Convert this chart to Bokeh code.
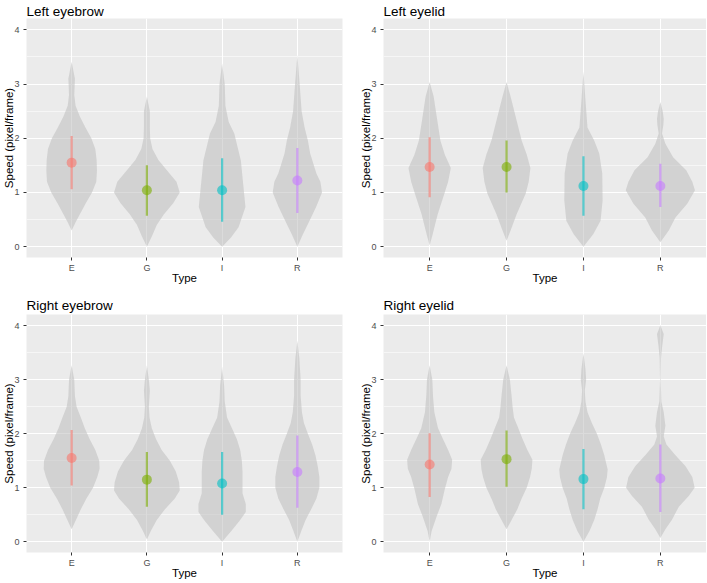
from bokeh.plotting import figure
from bokeh.layouts import gridplot
from bokeh.models import Range1d, FixedTicker
from bokeh.embed import file_html
from bokeh.resources import INLINE

# ---------------- data ----------------
types = ["E", "G", "I", "R"]
panel_titles = ["Left eyebrow", "Left eyelid", "Right eyebrow", "Right eyelid"]
type_colors = ["#F8766D", "#7CAE00", "#00BFC4", "#C77CFF"]
y_ticks = [0, 1, 2, 3, 4]
y_minor_ticks = [0.5, 1.5, 2.5, 3.5]

# mean and mean +/- sd of speed per type
lb_mean = [1.55, 1.04, 1.04, 1.22]
lb_lo = [1.06, 0.57, 0.46, 0.62]
lb_hi = [2.04, 1.50, 1.63, 1.82]

ll_mean = [1.47, 1.47, 1.12, 1.12]
ll_lo = [0.91, 1.00, 0.57, 0.73]
ll_hi = [2.02, 1.96, 1.67, 1.53]

rb_mean = [1.55, 1.15, 1.08, 1.29]
rb_lo = [1.04, 0.65, 0.50, 0.63]
rb_hi = [2.07, 1.66, 1.66, 1.97]

rl_mean = [1.43, 1.53, 1.16, 1.17]
rl_lo = [0.83, 1.02, 0.60, 0.55]
rl_hi = [2.01, 2.06, 1.72, 1.80]

# violin outlines: speed values and relative density (half width, 100 = widest)
lb_E_y = [0.30, 0.45, 0.6, 0.8, 1.0, 1.2, 1.4, 1.6, 1.8, 2.0, 2.2, 2.4, 2.6, 2.8, 3.1, 3.41]
lb_E_w = [0, 12, 25, 43, 62, 75, 77, 76, 72, 60, 42, 25, 12, 8, 10, 0]
lb_G_y = [0.0, 0.2, 0.4, 0.6, 0.8, 1.0, 1.2, 1.4, 1.6, 1.8, 2.0, 2.2, 2.5, 2.77]
lb_G_w = [0, 16, 30, 52, 80, 100, 90, 62, 35, 17, 10, 9, 9, 0]
lb_I_y = [0.0, 0.17, 0.36, 0.73, 1.22, 1.59, 2.09, 2.3, 2.6, 3.0, 3.38]
lb_I_w = [0, 27, 50, 71, 63, 57, 37, 20, 10, 8, 0]
lb_R_y = [0.0, 0.23, 0.48, 0.73, 1.0, 1.2, 1.35, 1.72, 1.96, 2.2, 2.5, 3.0, 3.54]
lb_R_w = [0, 17, 37, 57, 75, 70, 58, 39, 32, 22, 13, 7, 0]

ll_E_y = [0.02, 0.23, 0.6, 0.98, 1.2, 1.45, 1.7, 1.96, 2.4, 2.77, 3.04]
ll_E_w = [0, 9, 24, 44, 55, 63, 45, 32, 21, 12, 0]
ll_G_y = [0.11, 0.3, 0.6, 0.98, 1.2, 1.45, 1.7, 1.96, 2.4, 2.77, 3.04]
ll_G_w = [0, 12, 30, 57, 66, 71, 60, 45, 27, 12, 0]
ll_I_y = [0.0, 0.23, 0.48, 0.85, 1.35, 1.72, 1.96, 2.2, 2.7, 3.23]
ll_I_w = [0, 29, 51, 57, 56, 47, 32, 12, 6, 0]
ll_R_y = [0.08, 0.3, 0.54, 0.79, 1.04, 1.2, 1.41, 1.65, 1.9, 2.09, 2.25, 2.36, 2.5, 2.67]
ll_R_w = [0, 25, 45, 80, 103, 95, 77, 38, 15, 5, 9, 10, 7, 0]

rb_E_y = [0.23, 0.4, 0.6, 0.8, 1.0, 1.2, 1.35, 1.5, 1.7, 1.9, 2.1, 2.3, 2.5, 2.7, 3.0, 3.27]
rb_E_w = [0, 13, 28, 45, 65, 78, 85, 84, 72, 55, 40, 28, 15, 10, 8, 0]
rb_G_y = [0.04, 0.2, 0.4, 0.6, 0.8, 0.95, 1.1, 1.3, 1.5, 1.7, 1.9, 2.1, 2.3, 2.5, 2.8, 3.0, 3.27]
rb_G_w = [0, 12, 30, 55, 85, 100, 98, 88, 70, 45, 28, 15, 8, 6, 9, 6, 0]
rb_I_y = [0.0, 0.2, 0.4, 0.55, 0.7, 0.9, 1.1, 1.3, 1.5, 1.7, 1.9, 2.1, 2.3, 2.6, 2.9, 3.24]
rb_I_w = [0, 28, 55, 72, 72, 62, 62, 62, 60, 55, 45, 30, 15, 8, 6, 0]
rb_R_y = [0.0, 0.2, 0.4, 0.6, 0.8, 1.0, 1.2, 1.4, 1.6, 1.8, 2.0, 2.2, 2.4, 2.7, 3.0, 3.4, 3.73]
rb_R_w = [0, 12, 25, 42, 58, 67, 67, 62, 55, 45, 32, 20, 14, 10, 10, 6, 0]

rl_E_y = [0.0, 0.2, 0.47, 0.7, 0.97, 1.2, 1.35, 1.52, 1.7, 1.9, 2.1, 2.4, 2.7, 3.0, 3.27]
rl_E_w = [0, 6, 21, 35, 45, 55, 65, 67, 55, 40, 25, 14, 10, 8, 0]
rl_G_y = [0.23, 0.4, 0.6, 0.8, 1.0, 1.2, 1.35, 1.52, 1.7, 1.9, 2.1, 2.3, 2.5, 2.7, 3.0, 3.27]
rl_G_w = [0, 15, 32, 45, 60, 70, 75, 77, 62, 48, 35, 22, 18, 15, 10, 0]
rl_I_y = [0.0, 0.2, 0.4, 0.6, 0.8, 1.0, 1.2, 1.34, 1.6, 1.8, 2.0, 2.2, 2.4, 2.6, 2.8, 3.0, 3.2, 3.49]
rl_I_w = [0, 18, 32, 42, 50, 62, 70, 72, 62, 52, 40, 25, 12, 6, 4, 8, 6, 0]
rl_R_y = [0.07, 0.23, 0.41, 0.65, 0.85, 1.0, 1.2, 1.4, 1.6, 1.8, 1.95, 2.15, 2.4, 2.6, 3.0, 3.4, 3.6, 3.85, 4.01]
rl_R_w = [0, 15, 35, 55, 85, 102, 95, 75, 45, 18, 10, 15, 10, 3, 1, 2, 5, 10, 0]

# ---------------- styling ----------------
WIDTH_UNIT = 0.45 / 103.0   # x-axis units per relative density unit (max violin width 0.9)
FONT = "Liberation Sans"
BG = "#EBEBEB"


def make_panel(title, violins, mean, lo, hi, width, height, bl, br, bt, bb, title_gap):
    p = figure(width=width, height=height,
               x_range=Range1d(0.4, 4.6), y_range=Range1d(-0.2, 4.21),
               output_backend="svg", toolbar_location=None, title=title,
               min_border_left=bl, min_border_right=br,
               min_border_top=bt, min_border_bottom=bb,
               background_fill_color=BG, border_fill_color="white",
               outline_line_color=None)
    p.title.text_font = FONT
    p.title.text_font_size = "13.5px"
    p.title.text_font_style = "normal"
    p.title.text_color = "black"
    p.title.standoff = title_gap
    p.title.offset = 0

    xs = [i + 1 for i in range(len(types))]
    p.xaxis.ticker = FixedTicker(ticks=xs)
    p.xaxis.major_label_overrides = {x: t for x, t in zip(xs, types)}
    p.yaxis.ticker = FixedTicker(ticks=y_ticks, minor_ticks=y_minor_ticks)
    p.xaxis.axis_label = "Type"
    p.yaxis.axis_label = "Speed (pixel/frame)"
    for ax in (p.xaxis[0], p.yaxis[0]):
        ax.axis_line_color = None
        ax.major_tick_line_color = "#333333"
        ax.major_tick_line_width = 1
        ax.major_tick_out = 3
        ax.major_tick_in = 0
        ax.minor_tick_line_color = None
        ax.major_label_text_font = FONT
        ax.major_label_text_font_size = "9px"
        ax.major_label_text_color = "#4D4D4D"
        ax.axis_label_text_font = FONT
        ax.axis_label_text_font_size = "11.5px"
        ax.axis_label_text_font_style = "normal"
        ax.axis_label_text_color = "black"
    p.xaxis.major_label_standoff = 2
    p.xaxis.axis_label_standoff = -4
    p.yaxis.major_label_standoff = 3
    p.yaxis.axis_label_standoff = -4

    p.xgrid.grid_line_color = "white"
    p.xgrid.grid_line_width = 1.1
    p.ygrid.grid_line_color = "white"
    p.ygrid.grid_line_width = 1.1
    p.ygrid.minor_grid_line_color = "white"
    p.ygrid.minor_grid_line_width = 0.55

    for x, (vy, vw) in zip(xs, violins):
        p.harea(x1=[x - w * WIDTH_UNIT for w in vw],
                x2=[x + w * WIDTH_UNIT for w in vw],
                y=vy, fill_color="#BEBEBE", fill_alpha=0.55)

    p.segment(x0=xs, y0=lo, x1=xs, y1=hi, line_color=type_colors,
              line_width=2.2, line_alpha=0.6)
    p.scatter(x=xs, y=mean, size=10, fill_color=type_colors,
              line_color=None, fill_alpha=0.6)
    return p


p1 = make_panel(panel_titles[0],
                [(lb_E_y, lb_E_w), (lb_G_y, lb_G_w), (lb_I_y, lb_I_w), (lb_R_y, lb_R_w)],
                lb_mean, lb_lo, lb_hi, 345, 290, 25, 3, 18, 33, 0)
p2 = make_panel(panel_titles[1],
                [(ll_E_y, ll_E_w), (ll_G_y, ll_G_w), (ll_I_y, ll_I_w), (ll_R_y, ll_R_w)],
                ll_mean, ll_lo, ll_hi, 361, 290, 38, 0, 18, 33, 0)
p3 = make_panel(panel_titles[2],
                [(rb_E_y, rb_E_w), (rb_G_y, rb_G_w), (rb_I_y, rb_I_w), (rb_R_y, rb_R_w)],
                rb_mean, rb_lo, rb_hi, 345, 292, 25, 3, 24, 30, 4)
p4 = make_panel(panel_titles[3],
                [(rl_E_y, rl_E_w), (rl_G_y, rl_G_w), (rl_I_y, rl_I_w), (rl_R_y, rl_R_w)],
                rl_mean, rl_lo, rl_hi, 361, 292, 38, 0, 24, 30, 4)

grid = gridplot([[p1, p2], [p3, p4]], toolbar_location=None)

open("out.html", "w").write(file_html(grid, INLINE))
